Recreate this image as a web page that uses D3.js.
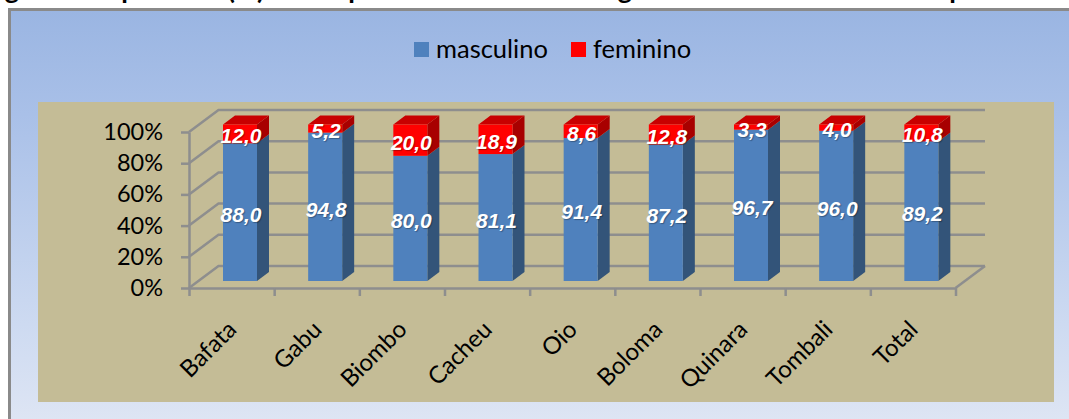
<!DOCTYPE html>
<html>
<head>
<meta charset="utf-8">
<script src="https://cdnjs.cloudflare.com/ajax/libs/d3/7.8.5/d3.min.js"></script>
<style>
  html, body { margin: 0; padding: 0; background: #fff; overflow: hidden; }
  text { font-family: Lato, "Open Sans", sans-serif; fill: #000; }
  .domain, .tick line { stroke: #8e8e8e; stroke-width: 2.5px; }
  .val { font-family: "Liberation Sans", Arial, sans-serif; font-size: 21px; font-weight: bold;
         font-style: italic; fill: #fff; text-anchor: middle; text-shadow: 1px 1px 1px rgba(0,0,0,.3); }
</style>
</head>
<body>
<div id="chart"></div>
<script>
const categories = ["Bafata", "Gabu", "Biombo", "Cacheu", "Oio", "Boloma", "Quinara", "Tombali", "Total"];
const masculino = [88.0, 94.8, 80.0, 81.1, 91.4, 87.2, 96.7, 96.0, 89.2];
const feminino = [12.0, 5.2, 20.0, 18.9, 8.6, 12.8, 3.3, 4.0, 10.8];
const yTicks = [0, 20, 40, 60, 80, 100];
const seriesNames = ["masculino", "feminino"];
// the line above the frame is cut off by the page, only the descenders show
const titleBits = ["g", "p", "(%)", "p", "g", "p"];

const W = 1069, H = 419;
const depth = {x: 29.5, y: -22};    // chart floor
const barDepth = {x: 12, y: -9};
const barW = 34;
const colors = {
    masculino: {front: "#4f81bd", side: "#335479"},
    feminino: {front: "#ff0000", side: "#a80000", top: "#c80000"}
};
const fmt = v => v.toFixed(1).replace(".", ",");

const svg = d3.select("#chart").append("svg").attr("width", W).attr("height", H).style("display", "block");

// background
const grad = svg.append("defs").append("linearGradient").attr("id", "bg")
    .attr("x1", 0).attr("y1", 0).attr("x2", 0).attr("y2", 1);
grad.append("stop").attr("offset", "0%").attr("stop-color", "#9ab5e2");
grad.append("stop").attr("offset", "25%").attr("stop-color", "#a9c0e8");
grad.append("stop").attr("offset", "75%").attr("stop-color", "#cddaf1");
grad.append("stop").attr("offset", "100%").attr("stop-color", "#dfe6f4");

svg.append("rect").attr("x", 9.5).attr("y", 9.5).attr("width", W).attr("height", H)
    .attr("fill", "url(#bg)").attr("stroke", "#8a8a8a").attr("stroke-width", 3);
svg.append("rect").attr("x", 38).attr("y", 102).attr("width", 1016).attr("height", 300).attr("fill", "#c4bc96");

// cut off title
const titleX = [12, 129, 246, 356, 625, 957];
svg.selectAll(".titleBit").data(titleBits).enter().append("text")
    .attr("class", "titleBit")
    .attr("x", (d, i) => titleX[i])
    .attr("y", -1)
    .attr("text-anchor", "middle")
    .style("font-size", "27px").style("font-weight", "bold")
    .text(d => d);

// legend
const legendX = [414, 571];
const legend = svg.selectAll(".leg").data(seriesNames).enter().append("g")
    .attr("class", "leg").attr("transform", (d, i) => `translate(${legendX[i]}, 42)`);
legend.append("rect").attr("width", 15).attr("height", 15).attr("fill", d => colors[d].front);
legend.append("text").attr("x", 22).attr("y", 15.5).style("font-size", "25.5px").text(d => d);

// scales
const xEdge = d3.scaleLinear().domain([0, categories.length]).range([189, 955.5]);
const yAxisScale = d3.scaleLinear().domain([0, 100]).range([288, 132]);
const yBar = d3.scaleLinear().domain([0, 100]).range([281, 124.5]);
const barX = i => xEdge(i) + 34;

// walls
const grid = svg.append("g").attr("fill", "none").attr("stroke", "#8e8e8e").attr("stroke-width", 2.5);
yTicks.forEach(t => {
    const y0 = yAxisScale(t);
    grid.append("path").attr("d", d3.line()([
        [xEdge(0), y0],
        [xEdge(0) + depth.x, y0 + depth.y],
        [xEdge(categories.length) + depth.x, y0 + depth.y]
    ]));
});
grid.append("line")
    .attr("x1", xEdge(categories.length)).attr("y1", yAxisScale(0))
    .attr("x2", xEdge(categories.length) + depth.x).attr("y2", yAxisScale(0) + depth.y);

// axes
const yAxis = svg.append("g").attr("transform", `translate(${xEdge(0)}, 0)`)
    .call(d3.axisLeft(yAxisScale).tickValues(yTicks).tickSize(8).tickSizeOuter(0).tickPadding(18).tickFormat(d => d + "%"));
yAxis.selectAll("text").style("font-size", "23.5px");

svg.append("g").attr("transform", `translate(0, ${yAxisScale(0)})`)
    .call(d3.axisBottom(xEdge).tickValues(d3.range(categories.length + 1)).tickSize(8).tickSizeOuter(0).tickFormat(""));

// category labels
svg.selectAll(".cat").data(categories).enter().append("text")
    .attr("class", "cat")
    .attr("text-anchor", "end")
    .attr("transform", (d, i) => `translate(${xEdge(i) + 49}, 331) rotate(-45)`)
    .style("font-size", "24px")
    .text(d => d);

// stacked 3d bars
function box(g, x, y1, y2, c, withTop) {
    g.append("polygon").attr("fill", c.side).attr("points", [
        [x + barW, y1], [x + barW + barDepth.x, y1 + barDepth.y],
        [x + barW + barDepth.x, y2 + barDepth.y], [x + barW, y2]
    ].join(" "));
    if (withTop) {
        g.append("polygon").attr("fill", c.top).attr("points", [
            [x, y1], [x + barDepth.x, y1 + barDepth.y],
            [x + barW + barDepth.x, y1 + barDepth.y], [x + barW, y1]
        ].join(" "));
    }
    g.append("rect").attr("x", x).attr("y", y1).attr("width", barW).attr("height", y2 - y1).attr("fill", c.front);
}

categories.forEach((c, i) => {
    const g = svg.append("g");
    const x = barX(i);
    const split = yBar(masculino[i]);
    box(g, x, split, yBar(0), colors.masculino, false);
    box(g, x, yBar(100), split, colors.feminino, true);

    g.append("text").attr("class", "val").attr("x", x + barW / 2 + 1)
        .attr("y", (split + yBar(0)) / 2 + 10).text(fmt(masculino[i]));
    g.append("text").attr("class", "val").attr("x", x + barW / 2 + 1)
        .attr("y", (split + yBar(100)) / 2 + 9.5).text(fmt(feminino[i]));
});
</script>
</body>
</html>
